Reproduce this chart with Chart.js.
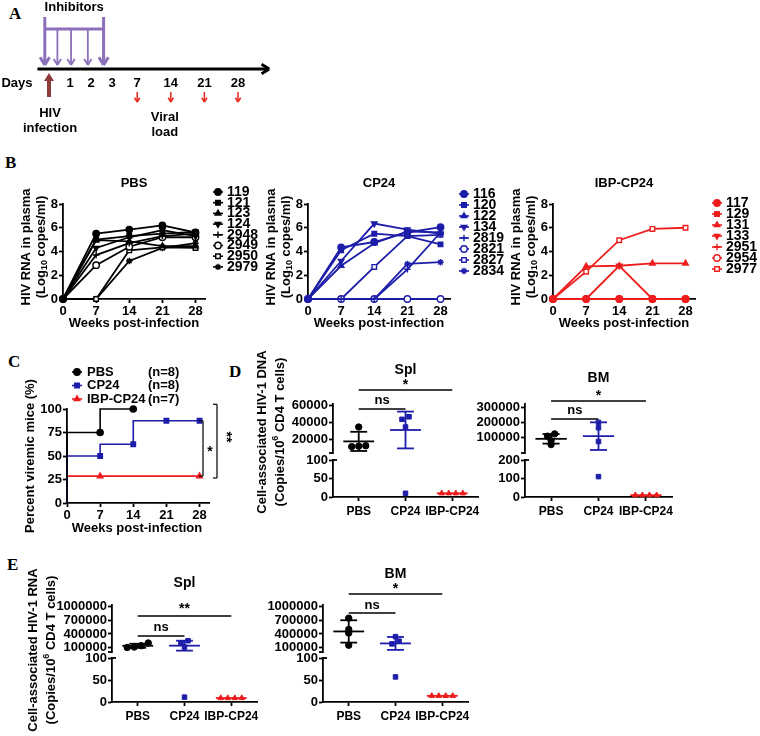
<!DOCTYPE html>
<html>
<head>
<meta charset="utf-8">
<script src="https://cdn.jsdelivr.net/npm/chart.js@4.4.1/dist/chart.umd.min.js"></script>
<style>
  html, body { margin: 0; padding: 0; background: #fff; }
  #page { position: relative; width: 760px; height: 736px; overflow: hidden; }
  #page canvas { position: absolute; left: 0; top: 0; }
  .tag { position: absolute; font: bold 17px "Liberation Serif", "Times New Roman", serif; }
</style>
</head>
<body>
<div id="page">
  <div class="tag" style="left:9px;top:4px">A</div>
  <div class="tag" style="left:5px;top:153px">B</div>
  <div class="tag" style="left:8px;top:352px">C</div>
  <div class="tag" style="left:229px;top:362px">D</div>
  <div class="tag" style="left:7px;top:555px">E</div>
</div>
<script>
// ---- A: protocol timeline ----
const dayLabels = [1, 2, 3, 7, 14, 21, 28];
const inhibitorDays = [-0.2, 0.4, 1.05, 1.85, 2.6];
const viralLoadDays = [7, 14, 21, 28];

// ---- B: plasma viral load per mouse (log10 copies/ml) ----
const weeks = [0, 7, 14, 21, 28];
const pbsMice = ['119', '121', '123', '124', '2948', '2949', '2950', '2979'];
const pbsLoad = [
  [0, 5.5, 5.85, 6.2, 5.6],
  [0, 5.0, 5.3, 5.5, 5.65],
  [0, 4.95, 4.85, 4.45, 4.45],
  [0, 4.3, 5.2, 5.8, 5.3],
  [0, 3.7, 4.7, 5.3, 5.5],
  [0, 2.85, 4.4, 5.2, 5.2],
  [0, 0, 4.1, 4.35, 4.3],
  [0, 0, 3.2, 4.3, 4.7],
];
const cp24Mice = ['116', '120', '122', '134', '2819', '2821', '2827', '2834'];
const cp24Load = [
  [0, 4.35, 4.8, 5.6, 6.05],
  [0, 4.1, 5.5, 5.3, 4.6],
  [0, 2.8, 4.7, 5.7, 5.6],
  [0, 3.2, 6.35, 5.85, 5.5],
  [0, 0, 0, 2.5, 5.6],
  [0, 0, 0, 0, 0],
  [0, 0, 2.7, 5.3, 5.4],
  [0, 0, 0, 2.95, 3.1],
];
const ibpMice = ['117', '129', '131', '133', '2951', '2954', '2977'];
const ibpLoad = [
  [0, 0, 0, 0, 0],
  [0, 0, 0, 0, 0],
  [0, 2.75, 2.8, 3.0, 3.0],
  [0, 0, 2.8, 0, 0],
  [0, 0, 0, 0, 0],
  [0, 0, 0, 0, 0],
  [0, 2.3, 4.95, 5.9, 6.0],
];

// ---- C: percent viremic mice ----
const groupNames = ['PBS', 'CP24', 'IBP-CP24'];
const groupCounts = ['(n=8)', '(n=8)', '(n=7)'];
const pbsViremicWeeks = [0, 7, 14];
const pbsViremic = [0, 75, 100];
const cp24ViremicWeeks = [0, 7, 14, 21, 28];
const cp24Viremic = [0, 50, 62.5, 87.5, 87.5];
const ibpViremicWeeks = [0, 7, 28];
const ibpViremic = [0, 28.6, 28.6];

// ---- D / E: cell-associated HIV-1 (copies / 10^6 CD4 T cells) ----
const dnaSpl = [[35000, 12000, 13000, 12500], [44000, 47000, 35000, 10], [10, 10, 10, 10]];
const dnaBM = [[125000, 110000, 80000, 55000], [200000, 165000, 75000, 110], [10, 10, 10, 10]];
const rnaSpl = [[200000, 140000, 110000, 100000], [250000, 200000, 110000, 11], [9, 9, 9, 9]];
const rnaBM = [[750000, 500000, 420000, 150000], [340000, 240000, 180000, 57], [14, 14, 14, 14]];
const dnaSplTicks = [20000, 40000, 60000];
const dnaBMTicks = [100000, 200000, 300000];
const rnaTicks = [100000, 400000, 700000, 1000000];
const lowTicks100 = [0, 50, 100];
const lowTicks200 = [0, 100, 200];

// ---------------------------------------------------------------
const W = 760, H = 736;
const FONT = '"Liberation Sans", Arial, sans-serif';
const BLACK = '#000000', BLUE = '#1d1daa', RED = '#ee1d1d';
const groupColors = [BLACK, BLUE, RED];
const groupDots = ['circle', 'rect', 'triangle'];
const mouseMarks = [
  { style: 'circle' }, { style: 'rect' }, { style: 'triangle' }, { style: 'triangle', rot: 180 },
  { style: 'cross' }, { style: 'circle', open: true }, { style: 'rect', open: true }, { style: 'star' },
];
Chart.defaults.font.family = FONT;

function makeCanvas() {
  const c = document.createElement('canvas');
  c.width = W; c.height = H;
  document.getElementById('page').appendChild(c);
  return c;
}

// place the chart area at page coords a = {l, t, r, b}
function frame(a, xh) {
  return { padding: { left: 0, top: a.t, right: W - a.r, bottom: H - a.b - xh } };
}

const tickFont = { size: 13, weight: 'bold' };
const groupFont = { size: 12, weight: 'bold' };
const AXIS_W = 1.8;

function yAxis(a, min, max, tickValues) {
  return {
    type: 'linear', min, max,
    afterFit: s => { s.width = a.l; },
    afterBuildTicks: s => { s.ticks = tickValues.map(v => ({ value: v })); },
    grid: { drawOnChartArea: false, drawTicks: true, tickLength: 4, tickWidth: AXIS_W, tickColor: '#000' },
    border: { display: true, color: '#000', width: AXIS_W },
    ticks: { color: '#000', font: tickFont, padding: 1, autoSkip: false, callback: v => String(v) },
  };
}

function xAxis(min, max, tickValues, xh, labels) {
  return {
    type: 'linear', min, max,
    afterFit: s => { s.height = xh; },
    afterBuildTicks: s => { s.ticks = tickValues.map(v => ({ value: v })); },
    grid: { drawOnChartArea: false, drawTicks: true, tickLength: 4, tickWidth: AXIS_W, tickColor: '#000' },
    border: { display: true, color: '#000', width: AXIS_W },
    ticks: {
      color: '#000', font: labels ? groupFont : tickFont, padding: labels ? 3 : 1, maxRotation: 0, autoSkip: false,
      callback: v => labels ? labels[v] : String(v),
    },
  };
}

const common = {
  responsive: false, animation: false, devicePixelRatio: 1,
  events: [],
};

const deco = fn => ({ id: 'deco', afterDraw: c => { c.ctx.save(); fn(c, c.ctx); c.ctx.restore(); } });

function text(ctx, s, x, y, size, o = {}) {
  ctx.save();
  ctx.translate(x, y);
  if (o.rot) ctx.rotate(o.rot);
  ctx.font = `bold ${size}px ${FONT}`;
  ctx.fillStyle = o.color || '#000';
  ctx.textAlign = o.align || 'center';
  ctx.textBaseline = 'middle';
  ctx.fillText(s, 0, 0);
  ctx.restore();
}

// centred text with sub/superscript parts: [[text, 'sub'|'sup'|null], ...]
function rich(ctx, parts, x, y, size, rot) {
  ctx.save();
  ctx.translate(x, y);
  ctx.rotate(rot || 0);
  const small = Math.round(size * 0.72);
  const widths = parts.map(([t, k]) => { ctx.font = `bold ${k ? small : size}px ${FONT}`; return ctx.measureText(t).width; });
  let cx = -widths.reduce((p, q) => p + q, 0) / 2;
  ctx.fillStyle = '#000';
  ctx.textBaseline = 'middle';
  ctx.textAlign = 'left';
  parts.forEach(([t, k], i) => {
    ctx.font = `bold ${k ? small : size}px ${FONT}`;
    const dy = k === 'sub' ? size * 0.3 : k === 'sup' ? -size * 0.35 : 0;
    ctx.fillText(t, cx, dy);
    cx += widths[i];
  });
  ctx.restore();
}

function seg(ctx, x1, y1, x2, y2, color, w) {
  ctx.beginPath();
  ctx.moveTo(x1, y1);
  ctx.lineTo(x2, y2);
  ctx.strokeStyle = color;
  ctx.lineWidth = w;
  ctx.stroke();
}

function vHead(ctx, x, y, ang, len, color, w) {
  [-0.55, 0.55].forEach(d => {
    seg(ctx, x, y, x - len * Math.cos(ang + d), y - len * Math.sin(ang + d), color, w);
  });
}

function marker(ctx, m, color, x, y) {
  ctx.fillStyle = m.open ? '#fff' : color;
  ctx.strokeStyle = color;
  ctx.lineWidth = 1.4;
  Chart.helpers.drawPoint(ctx, { pointStyle: m.style, rotation: m.rot || 0, radius: 3.2, borderWidth: 1.4 }, x, y);
}

// ================= A =================
const daySlot = d => d <= 3 ? d : 4.2 + (d - 7) / 7 * 1.6;

function drawTimeline(c, ctx) {
  const px = d => c.scales.x.getPixelForValue(daySlot(d));
  const PURPLE = '#8c6fba', BROWN = '#8e3b3b', ARROWRED = '#e8261c';
  const axisY = 69;
  seg(ctx, px(-0.55), axisY, px(34.3), axisY, '#000', 3);
  vHead(ctx, px(34.3) + 1, axisY, 0, 9, '#000', 3);
  text(ctx, 'Days', 17, 83, 13);
  dayLabels.forEach(d => text(ctx, String(d), px(d), 83, 13));

  // inhibitor doses
  const first = inhibitorDays[0], last = inhibitorDays[inhibitorDays.length - 1];
  seg(ctx, px(first), 29, px(last), 29, PURPLE, 3);
  inhibitorDays.forEach((d, i) => {
    const big = i === 0 || i === inhibitorDays.length - 1;
    const x = px(d);
    seg(ctx, x, big ? 17 : 29, x, 65, PURPLE, big ? 3 : 1.8);
    vHead(ctx, x, 65, Math.PI / 2, big ? 9 : 7, PURPLE, big ? 3 : 1.8);
  });
  text(ctx, 'Inhibitors', (px(first) + px(last)) / 2, 7, 13);

  // infection
  const hx = px(0);
  ctx.fillStyle = BROWN;
  ctx.fillRect(hx - 2, 80, 4, 17);
  ctx.beginPath();
  ctx.moveTo(hx, 73); ctx.lineTo(hx - 5, 81); ctx.lineTo(hx + 5, 81); ctx.closePath();
  ctx.fill();
  text(ctx, 'HIV', hx + 1, 113, 13);
  text(ctx, 'infection', hx + 1, 128, 13);

  // sampling
  viralLoadDays.forEach(d => {
    const x = px(d);
    seg(ctx, x, 92, x, 102, ARROWRED, 1.5);
    vHead(ctx, x, 102, Math.PI / 2, 5, ARROWRED, 1.5);
  });
  text(ctx, 'Viral', px(14) - 6, 117, 13);
  text(ctx, 'load', px(14) - 6, 132, 13);
}

new Chart(makeCanvas(), {
  type: 'scatter',
  data: { datasets: [] },
  options: Object.assign({}, common, {
    layout: frame({ l: 0, t: 0, r: 290, b: 150 }, 0),
    plugins: { legend: { display: false }, tooltip: { enabled: false } },
    scales: {
      x: { type: 'linear', display: false, min: -2.333, max: 11.476 },
      y: { type: 'linear', display: false, min: 0, max: 1 },
    },
  }),
  plugins: [deco(drawTimeline)],
});

// ================= B =================
function loadChart(a, mice, loads, color, title, leg) {
  const datasets = mice.map((m, i) => {
    const mk = mouseMarks[i];
    return {
      label: m,
      data: weeks.map((w, j) => ({ x: w, y: loads[i][j] })),
      showLine: true,
      borderColor: color,
      borderWidth: 1.8,
      pointStyle: mk.style,
      pointRotation: mk.rot || 0,
      pointRadius: 3.2,
      pointBorderWidth: 1.4,
      pointBackgroundColor: mk.open ? '#fff' : color,
      pointBorderColor: color,
      clip: false,
    };
  });
  new Chart(makeCanvas(), {
    type: 'scatter',
    data: { datasets },
    options: Object.assign({}, common, {
      layout: frame(a, 20),
      plugins: { legend: { display: false }, tooltip: { enabled: false } },
      scales: {
        x: xAxis(0, 30, weeks, 20),
        y: yAxis(a, 0, 8, [0, 2, 4, 6, 8]),
      },
    }),
    plugins: [deco((c, ctx) => {
      const ca = c.chartArea;
      const cx = (ca.left + ca.right) / 2;
      text(ctx, title, cx, 183, 13);
      text(ctx, 'Weeks post-infection', cx, 323, 13);
      const my = 247;
      text(ctx, 'HIV RNA in plasma', ca.left - 37, my, 13, { rot: -Math.PI / 2 });
      rich(ctx, [['(Log', null], ['10', 'sub'], [' copes/ml)', null]], ca.left - 22, my, 13, -Math.PI / 2);
      mice.forEach((m, i) => {
        const y = leg.y + i * leg.step;
        seg(ctx, leg.x, y, leg.x + 10, y, color, 1.6);
        marker(ctx, mouseMarks[i], color, leg.x + 5, y);
        text(ctx, m, leg.x + 14, y, 14, { align: 'left' });
      });
    })],
  });
}

loadChart({ l: 63, t: 204, r: 205, b: 299 }, pbsMice, pbsLoad, BLACK, 'PBS', { x: 213, y: 192, step: 10.7 });
loadChart({ l: 308, t: 204, r: 450, b: 299 }, cp24Mice, cp24Load, BLUE, 'CP24', { x: 459, y: 194, step: 11 });
loadChart({ l: 553, t: 204, r: 695, b: 299 }, ibpMice, ibpLoad, RED, 'IBP-CP24', { x: 712, y: 203, step: 11 });

// ================= C =================
(function () {
  const a = { l: 67, t: 409, r: 209, b: 503 };
  const series = [
    { w: pbsViremicWeeks, v: pbsViremic },
    { w: cp24ViremicWeeks, v: cp24Viremic },
    { w: ibpViremicWeeks, v: ibpViremic },
  ];
  const datasets = series.map((s, i) => ({
    label: groupNames[i],
    data: s.w.map((w, j) => ({ x: w, y: s.v[j] })),
    showLine: true,
    stepped: 'after',
    borderColor: groupColors[i],
    borderWidth: 1.6,
    pointStyle: groupDots[i],
    pointRadius: s.w.map(w => (w === 0 ? 0 : 3)),
    pointBackgroundColor: groupColors[i],
    pointBorderColor: groupColors[i],
    clip: false,
  }));
  new Chart(makeCanvas(), {
    type: 'scatter',
    data: { datasets },
    options: Object.assign({}, common, {
      layout: frame(a, 20),
      plugins: { legend: { display: false }, tooltip: { enabled: false } },
      scales: {
        x: xAxis(0, 30, weeks, 20),
        y: yAxis(a, 0, 100, [0, 25, 50, 75, 100]),
      },
    }),
    plugins: [deco((c, ctx) => {
      const ca = c.chartArea, ys = c.scales.y;
      text(ctx, 'Weeks post-infection', (ca.left + ca.right) / 2 - 1, 528, 13);
      text(ctx, 'Percent viremic mice (%)', 30, (ca.top + ca.bottom) / 2, 13, { rot: -Math.PI / 2 });
      groupNames.forEach((g, i) => {
        const y = 372 + i * 13.5;
        seg(ctx, 72, y, 82, y, groupColors[i], 1.6);
        marker(ctx, { style: groupDots[i] }, groupColors[i], 77, y);
        text(ctx, g, 87, y, 13, { align: 'left' });
        text(ctx, groupCounts[i], 148, y, 13, { align: 'left' });
      });
      // log-rank brackets
      const bracket = (x, v1, v2) => {
        const y1 = ys.getPixelForValue(v1), y2 = ys.getPixelForValue(v2);
        seg(ctx, x - 4, y1, x, y1, '#000', 1.2);
        seg(ctx, x, y1, x, y2, '#000', 1.2);
        seg(ctx, x - 4, y2, x, y2, '#000', 1.2);
      };
      bracket(ca.right - 6, cp24Viremic[cp24Viremic.length - 1], ibpViremic[ibpViremic.length - 1]);
      bracket(ca.right + 8, 105, ibpViremic[ibpViremic.length - 1] - 2);
      text(ctx, '*', ca.right + 1, 452, 14);
      text(ctx, '**', ca.right + 17, 437, 14, { rot: Math.PI / 2 });
    })],
  });
})();

// ================= D / E =================
function spreadOffsets(vals, span) {
  const idx = vals.map((v, i) => i).sort((p, q) => vals[p] - vals[q]);
  const offs = vals.map(() => 0);
  let cluster = [];
  const flush = () => {
    cluster.forEach((id, j) => { offs[id] = (j - (cluster.length - 1) / 2) * 0.15; });
    cluster = [];
  };
  idx.forEach(id => {
    if (cluster.length && vals[id] - vals[cluster[cluster.length - 1]] > span * 0.07) flush();
    cluster.push(id);
  });
  flush();
  return offs;
}

// values strictly above `floor` and within [lo, hi] belong to this axis segment
function dotDatasets(groups, floor, lo, hi) {
  return groups.map((vals, gi) => {
    const inside = vals.filter(v => v > floor && v >= lo && v <= hi);
    const offs = spreadOffsets(inside, hi - lo);
    return {
      data: inside.map((v, j) => ({ x: gi + offs[j], y: v })),
      pointStyle: groupDots[gi],
      pointRadius: 3.2,
      pointBackgroundColor: groupColors[gi],
      pointBorderColor: groupColors[gi],
      pointBorderWidth: 1,
      clip: false,
    };
  });
}

function drawStats(c, ctx, groups, floor) {
  const ca = c.chartArea, xs = c.scales.x, ys = c.scales.y;
  ctx.save();
  ctx.beginPath();
  ctx.rect(ca.left, ca.top - 1, ca.right - ca.left, ca.bottom - ca.top + 2);
  ctx.clip();
  groups.forEach((vals, i) => {
    const n = vals.length;
    const mean = vals.reduce((p, q) => p + q, 0) / n;
    const sd = Math.sqrt(vals.reduce((p, q) => p + (q - mean) * (q - mean), 0) / (n - 1));
    const col = groupColors[i];
    const X = v => xs.getPixelForValue(v), Y = v => ys.getPixelForValue(v);
    if (mean > floor) seg(ctx, X(i - 0.33), Y(mean), X(i + 0.33), Y(mean), col, 1.8);
    if (sd > 0) {
      const top = mean + sd, bot = Math.max(mean - sd, floor);
      if (top > floor) {
        seg(ctx, X(i), Y(top), X(i), Y(bot), col, 1.8);
        seg(ctx, X(i - 0.18), Y(top), X(i + 0.18), Y(top), col, 1.8);
        if (mean - sd > floor) seg(ctx, X(i - 0.18), Y(mean - sd), X(i + 0.18), Y(mean - sd), col, 1.8);
      }
    }
  });
  ctx.restore();
}

function dotPanel(p) {
  const up = { l: p.l, r: p.r, t: p.hi.t, b: p.hi.b };
  const dn = { l: p.l, r: p.r, t: p.lo.t, b: p.lo.b };
  // upper segment
  new Chart(makeCanvas(), {
    type: 'scatter',
    data: { datasets: dotDatasets(p.groups, p.lo.max, p.hi.min, p.hi.max) },
    options: Object.assign({}, common, {
      layout: frame(up, 0),
      plugins: { legend: { display: false }, tooltip: { enabled: false } },
      scales: {
        x: { type: 'linear', display: false, min: -0.55, max: 2.55 },
        y: yAxis(up, p.hi.min, p.hi.max, p.hi.ticks),
      },
    }),
    plugins: [deco((c, ctx) => {
      drawStats(c, ctx, p.groups, p.lo.max);
      const ca = c.chartArea, xs = c.scales.x;
      seg(ctx, ca.left - 4, ca.bottom, ca.left, ca.bottom, '#000', AXIS_W);
      text(ctx, p.title, xs.getPixelForValue(1), p.titleY, 14);
      p.sig.forEach(s => {
        seg(ctx, xs.getPixelForValue(s.a), s.y, xs.getPixelForValue(s.b), s.y, '#000', 1.5);
        text(ctx, s.label, xs.getPixelForValue((s.a + s.b) / 2), s.ly, s.label === 'ns' ? 13 : 14);
      });
      if (p.ytitle) {
        text(ctx, p.ytitle[0], p.ytitle[2], p.ytitle[4], 13, { rot: -Math.PI / 2 });
        rich(ctx, p.ytitle[1], p.ytitle[3], p.ytitle[4], 13, -Math.PI / 2);
      }
    })],
  });
  // lower segment
  new Chart(makeCanvas(), {
    type: 'scatter',
    data: { datasets: dotDatasets(p.groups, -Infinity, p.lo.min, p.lo.max) },
    options: Object.assign({}, common, {
      layout: frame(dn, 18),
      plugins: { legend: { display: false }, tooltip: { enabled: false } },
      scales: {
        x: xAxis(-0.55, 2.55, [0, 1, 2], 18, groupNames),
        y: yAxis(dn, p.lo.min, p.lo.max, p.lo.ticks),
      },
    }),
    plugins: [deco((c, ctx) => {
      drawStats(c, ctx, p.groups, -Infinity);
      const ca = c.chartArea;
      seg(ctx, ca.left, ca.top, ca.left + 4, ca.top, '#000', AXIS_W);
    })],
  });
}

const copiesTitle = [['(Copies/10', null], ['6', 'sup'], [' CD4 T cells)', null]];

dotPanel({
  groups: dnaSpl, l: 333, r: 478,
  hi: { t: 404, b: 453, min: 4500, max: 62000, ticks: dnaSplTicks },
  lo: { t: 460, b: 497, min: 0, max: 100, ticks: lowTicks100 },
  title: 'Spl', titleY: 370,
  sig: [{ a: 0, b: 2, y: 390, label: '*', ly: 385 }, { a: 0, b: 1, y: 409, label: 'ns', ly: 400 }],
  ytitle: ['Cell-associated HIV-1 DNA', copiesTitle, 262, 280, 432],
});
dotPanel({
  groups: dnaBM, l: 525, r: 672,
  hi: { t: 404, b: 453, min: 0, max: 320000, ticks: dnaBMTicks },
  lo: { t: 460, b: 497, min: 0, max: 200, ticks: lowTicks200 },
  title: 'BM', titleY: 378,
  sig: [{ a: 0, b: 2, y: 401, label: '*', ly: 396 }, { a: 0, b: 1, y: 419, label: 'ns', ly: 410 }],
});
dotPanel({
  groups: rnaSpl, l: 112, r: 257,
  hi: { t: 605, b: 652, min: 0, max: 1040000, ticks: rnaTicks },
  lo: { t: 658, b: 702, min: 0, max: 100, ticks: lowTicks100 },
  title: 'Spl', titleY: 583,
  sig: [{ a: 0, b: 2, y: 616, label: '**', ly: 609 }, { a: 0, b: 1, y: 636, label: 'ns', ly: 627 }],
  ytitle: ['Cell-associated HIV-1 RNA', copiesTitle, 33, 51, 650],
});
dotPanel({
  groups: rnaBM, l: 323, r: 468,
  hi: { t: 605, b: 652, min: 0, max: 1040000, ticks: rnaTicks },
  lo: { t: 658, b: 702, min: 0, max: 100, ticks: lowTicks100 },
  title: 'BM', titleY: 574,
  sig: [{ a: 0, b: 2, y: 594, label: '*', ly: 589 }, { a: 0, b: 1, y: 613, label: 'ns', ly: 605 }],
});
</script>
</body>
</html>
